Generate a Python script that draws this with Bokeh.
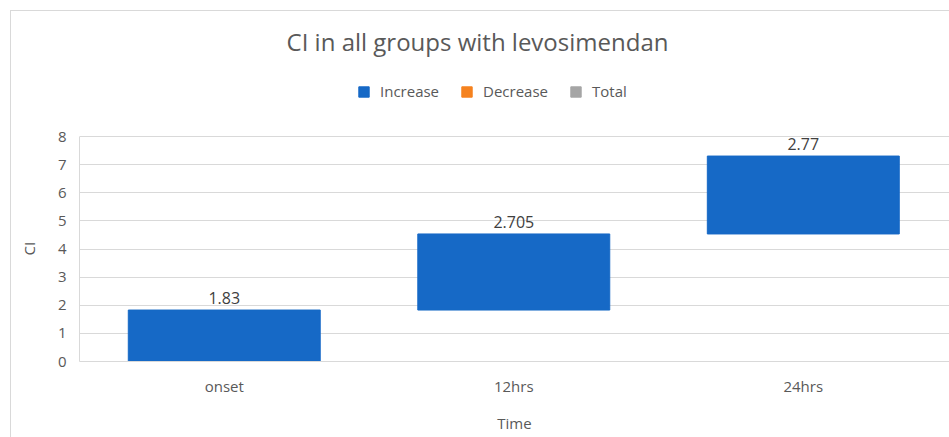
import numpy as np
from bokeh.plotting import figure
from bokeh.models import (ColumnDataSource, Range1d, FixedTicker, Label, Legend,
                          LegendItem, Title)
from bokeh.core.properties import value
from bokeh.embed import file_html
from bokeh.resources import INLINE

categories = ["onset", "12hrs", "24hrs"]
increase_values = [1.83, 2.705, 2.77]
value_labels = ["1.83", "2.705", "2.77"]
decrease_values = [np.nan]   # no decreases in this chart
total_values = [np.nan]      # no total bar in this chart
y_ticks = [0, 1, 2, 3, 4, 5, 6, 7, 8]

FONT = "Open Sans"
TXT = "#595959"
GRID = "#d9d9d9"
BLUE = "#1669c6"
ORANGE = "#f5821f"
GRAY = "#a5a5a5"

ends = np.cumsum(increase_values)
starts = ends - np.array(increase_values)
xs = list(range(len(categories)))
src = ColumnDataSource(dict(x=xs, bottom=starts, top=ends, lab=value_labels))
dec_src = ColumnDataSource(dict(x=[0], bottom=decrease_values, top=decrease_values))
tot_src = ColumnDataSource(dict(x=[0], bottom=total_values, top=total_values))

W, H = 949, 437
p = figure(width=W, height=H, output_backend="svg", toolbar_location=None,
           x_range=Range1d(-0.5, 2.505), y_range=Range1d(0, 361 / 28.125),
           min_border_left=79, min_border_right=0, min_border_top=0,
           min_border_bottom=76)
p.outline_line_color = None
p.border_fill_color = None
p.background_fill_color = None
p.styles = {"background": "linear-gradient(#d9d9d9,#d9d9d9) 10px 10px / 1px 100% no-repeat, "
                          "linear-gradient(#d9d9d9,#d9d9d9) 10px 10px / 100% 1px no-repeat, white"}

inc = p.vbar(x="x", bottom="bottom", top="top", width=0.663, source=src,
             fill_color=BLUE, line_color=BLUE)
dec = p.vbar(x="x", bottom="bottom", top="top", width=0.663, source=dec_src,
             fill_color=ORANGE, line_color=ORANGE)
tot = p.vbar(x="x", bottom="bottom", top="top", width=0.663, source=tot_src,
             fill_color=GRAY, line_color=GRAY)

p.text(x="x", y="top", text="lab", source=src, text_align="center",
       text_baseline="bottom", y_offset=-6, text_font=value(FONT),
       text_font_size="16px", text_color="#404040")

# axes
p.xaxis.ticker = FixedTicker(ticks=xs)
p.xaxis.major_label_overrides = {i: c for i, c in enumerate(categories)}
p.xaxis.major_tick_line_color = None
p.xaxis.minor_tick_line_color = None
p.xaxis.axis_line_color = GRID
p.xaxis.major_label_standoff = 8
p.xaxis.major_label_text_font = FONT
p.xaxis.major_label_text_font_size = "15px"
p.xaxis.major_label_text_color = TXT
p.xaxis.axis_label = "Time"
p.xaxis.axis_label_text_font = FONT
p.xaxis.axis_label_text_font_size = "15px"
p.xaxis.axis_label_text_font_style = "normal"
p.xaxis.axis_label_text_color = TXT
p.xaxis.axis_label_standoff = 14

p.yaxis.ticker = FixedTicker(ticks=y_ticks)
p.yaxis.bounds = (0, 8)
p.yaxis.major_tick_line_color = None
p.yaxis.minor_tick_line_color = None
p.yaxis.axis_line_color = GRID
p.yaxis.major_label_standoff = 7
p.yaxis.major_label_text_font = FONT
p.yaxis.major_label_text_font_size = "15px"
p.yaxis.major_label_text_color = TXT

# y axis title, centred on the 0-8 part of the axis
ytitle = Title(text="CI", align="left", offset=106, standoff=32,
               text_font=FONT, text_font_size="15px", text_font_style="normal",
               text_color=TXT)
p.add_layout(ytitle, "left")

p.xgrid.grid_line_color = None
p.ygrid.ticker = FixedTicker(ticks=y_ticks)
p.ygrid.grid_line_color = GRID
p.ygrid.grid_line_width = 1

# chart title
title = Label(x=398, y=320, x_units="screen", y_units="screen",
              text="CI in all groups with levosimendan", text_align="center",
              text_baseline="middle", text_font=FONT, text_font_size="24px",
              text_color=TXT)
p.add_layout(title)

legend = Legend(items=[LegendItem(label="Increase", renderers=[inc]),
                       LegendItem(label="Decrease", renderers=[dec]),
                       LegendItem(label="Total", renderers=[tot])],
                orientation="horizontal", location=(278, 260),
                glyph_width=13, glyph_height=13, label_height=14,
                label_standoff=10, spacing=21, padding=0, margin=0,
                border_line_color=None, background_fill_alpha=0,
                label_text_font=FONT, label_text_font_size="15px",
                label_text_color=TXT, label_text_baseline="middle")
p.add_layout(legend, "center")

open("out.html", "w").write(file_html(p, INLINE))
